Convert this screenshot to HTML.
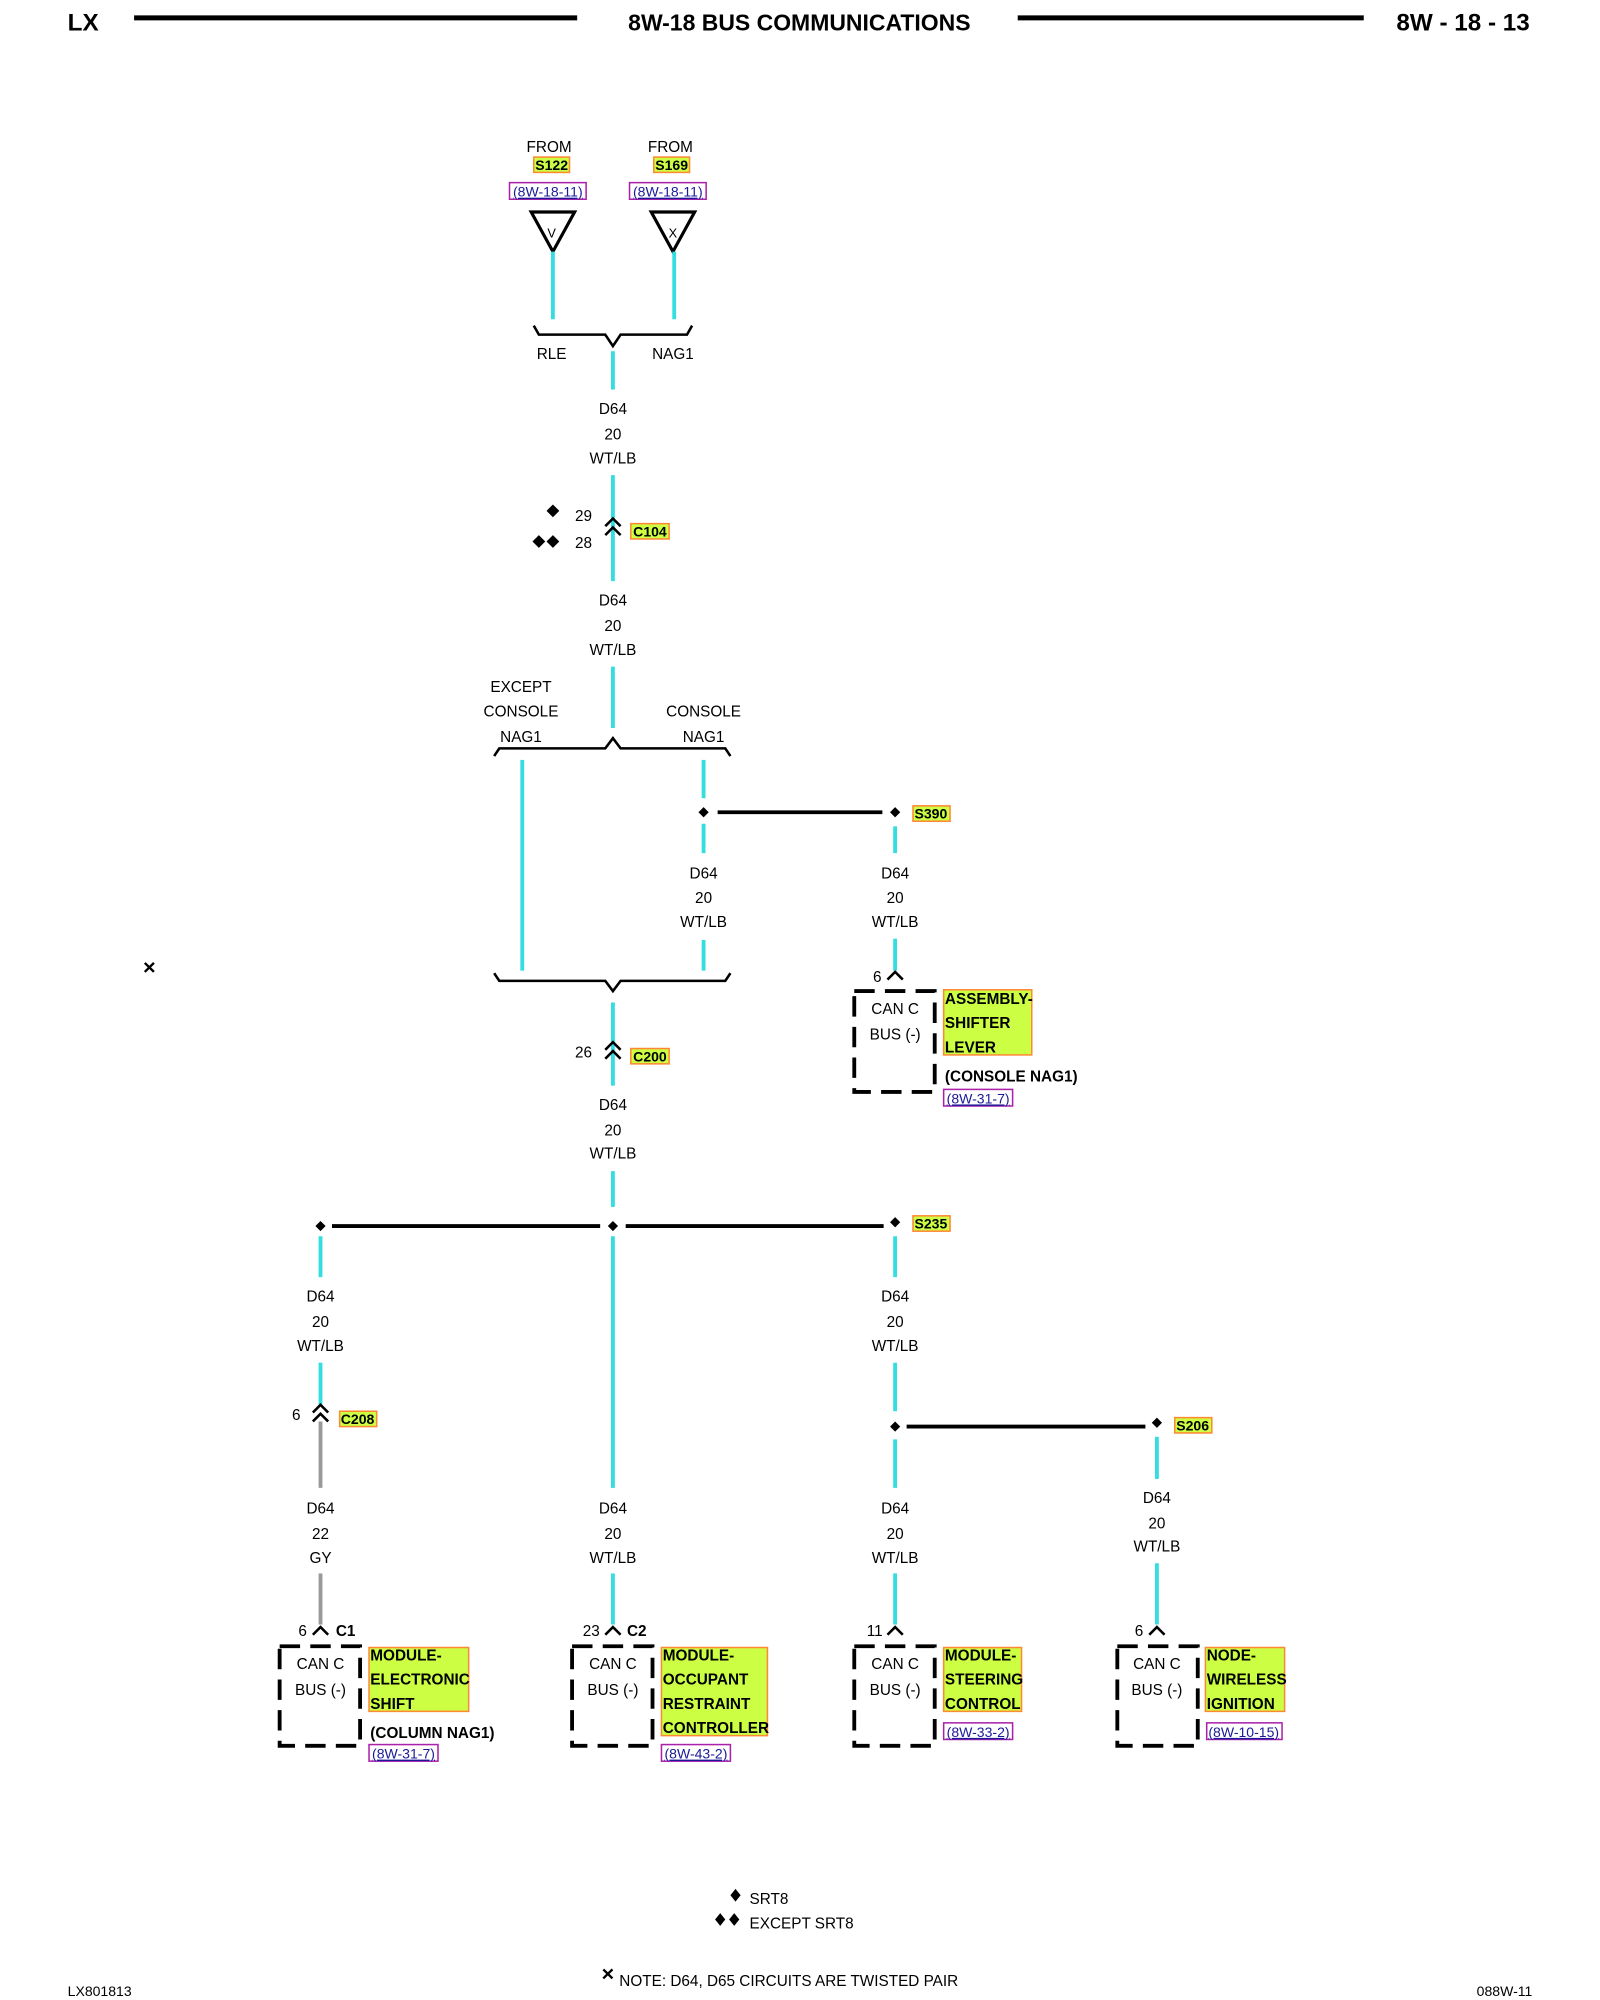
<!DOCTYPE html>
<html><head><meta charset="utf-8"><style>
html,body{margin:0;padding:0;background:#fff;}
svg{display:block}
text{font-family:"Liberation Sans",sans-serif;font-size:12px;fill:#000}
.c{text-anchor:middle}
.b{font-weight:bold}
.w{stroke:#33dde0;stroke-width:3;fill:none}
.g{stroke:#999;stroke-width:3;fill:none}
.k{stroke:#000;stroke-width:2;fill:none}
.lbl{fill:#ccff44;stroke:#ff8833;stroke-width:1.2}
.lnk{fill:none;stroke:#aa22aa;stroke-width:1.2}
.lt{fill:#1a1a99;text-decoration:underline}
.box{fill:none;stroke:#000;stroke-width:3;stroke-dasharray:16,8}
</style></head><body>
<svg width="1600" height="2000" viewBox="0 0 1253 1566" preserveAspectRatio="none" xmlns="http://www.w3.org/2000/svg">
<!-- header -->
<text x="53" y="24" class="b" style="font-size:19px">LX</text>
<line x1="105" y1="14" x2="452" y2="14" stroke="#000" stroke-width="4"/>
<text x="626" y="24" class="b c" style="font-size:18px">8W-18 BUS COMMUNICATIONS</text>
<line x1="797" y1="14" x2="1068" y2="14" stroke="#000" stroke-width="4"/>
<text x="1198" y="24" class="b" text-anchor="end" style="font-size:19px">8W - 18 - 13</text>

<!-- top sources -->
<text x="430" y="119" class="c">FROM</text>
<rect x="418" y="123" width="28" height="12" class="lbl"/><text x="432" y="133" class="c b" style="font-size:11px">S122</text>
<rect x="399" y="143" width="60" height="13" class="lnk"/><text x="429" y="154" class="c lt" style="font-size:11px">(8W-18-11)</text>
<polygon points="416,166 450,166 433,197" fill="#fff" stroke="#000" stroke-width="2.5"/>
<text x="432" y="186" class="c" style="font-size:10px">V</text>
<text x="525" y="119" class="c">FROM</text>
<rect x="512" y="123" width="28" height="12" class="lbl"/><text x="526" y="133" class="c b" style="font-size:11px">S169</text>
<rect x="493" y="143" width="60" height="13" class="lnk"/><text x="523" y="154" class="c lt" style="font-size:11px">(8W-18-11)</text>
<polygon points="510,166 544,166 527,197" fill="#fff" stroke="#000" stroke-width="2.5"/>
<text x="527" y="186" class="c" style="font-size:10px">X</text>
<line x1="433" y1="197" x2="433" y2="250" class="w"/>
<line x1="528" y1="197" x2="528" y2="250" class="w"/>
<path d="M418,255 L422,262 L474,262 L480,271 L486,262 L538,262 L542,255" class="k"/>
<text x="432" y="281" class="c">RLE</text>
<text x="527" y="281" class="c">NAG1</text>
<line x1="480" y1="275" x2="480" y2="305" class="w"/>
<text x="480" y="324" class="c">D64</text><text x="480" y="344" class="c">20</text><text x="480" y="363" class="c">WT/LB</text>
<line x1="480" y1="372" x2="480" y2="455" class="w"/>
<path d="M474,412 L480,406 L486,412 M474,419 L480,413 L486,419" class="k" stroke-width="2.2"/>
<polygon points="433,395 438,400 433,405 428,400" fill="#000"/>
<polygon points="422,419 427,424 422,429 417,424" fill="#000"/>
<polygon points="433,419 438,424 433,429 428,424" fill="#000"/>
<text x="457" y="408" class="c">29</text><text x="457" y="429" class="c">28</text>
<rect x="494" y="410" width="30" height="12" class="lbl"/><text x="509" y="420" class="c b" style="font-size:11px">C104</text>
<text x="480" y="474" class="c">D64</text><text x="480" y="494" class="c">20</text><text x="480" y="513" class="c">WT/LB</text>
<line x1="480" y1="522" x2="480" y2="570" class="w"/>
<text x="408" y="542" class="c">EXCEPT</text><text x="408" y="561" class="c">CONSOLE</text><text x="408" y="581" class="c">NAG1</text>
<text x="551" y="561" class="c">CONSOLE</text><text x="551" y="581" class="c">NAG1</text>
<path d="M387,592 L391,586 L474,586 L480,578 L486,586 L568,586 L572,592" class="k"/>
<line x1="409" y1="595" x2="409" y2="760" class="w"/>
<line x1="551" y1="595" x2="551" y2="625" class="w"/>
<line x1="551" y1="645" x2="551" y2="668" class="w"/>
<line x1="551" y1="736" x2="551" y2="760" class="w"/>
<polygon points="551,632 555,636 551,640 547,636" fill="#000"/>
<line x1="562" y1="636" x2="691" y2="636" stroke="#000" stroke-width="3"/>
<polygon points="701,632 705,636 701,640 697,636" fill="#000"/>
<rect x="715" y="631" width="29" height="12" class="lbl"/><text x="729" y="641" class="c b" style="font-size:11px">S390</text>
<text x="551" y="688" class="c">D64</text><text x="551" y="707" class="c">20</text><text x="551" y="726" class="c">WT/LB</text>
<line x1="701" y1="647" x2="701" y2="668" class="w"/>
<text x="701" y="688" class="c">D64</text><text x="701" y="707" class="c">20</text><text x="701" y="726" class="c">WT/LB</text>
<line x1="701" y1="735" x2="701" y2="760" class="w"/>
<path d="M387,762 L391,768 L474,768 L480,776 L486,768 L568,768 L572,762" class="k"/>
<!-- assembly shifter -->
<text x="687" y="769" class="c">6</text>
<path d="M695,767 L701,761 L707,767" class="k"/>
<rect x="669" y="776" width="63" height="79" class="box"/>
<text x="701" y="794" class="c">CAN C</text><text x="701" y="814" class="c">BUS (-)</text>
<rect x="739" y="775" width="69" height="51" class="lbl"/>
<text x="740" y="786" class="b">ASSEMBLY-</text><text x="740" y="805" class="b">SHIFTER</text><text x="740" y="824" class="b">LEVER</text>
<text x="740" y="847" class="b">(CONSOLE NAG1)</text>
<rect x="739" y="853" width="54" height="13" class="lnk"/><text x="766" y="864" class="c lt" style="font-size:11px">(8W-31-7)</text>
<!-- twisted pair marker -->
<text x="117" y="763" class="c b" style="font-size:17px">×</text>
<!-- C200 -->
<line x1="480" y1="785" x2="480" y2="850" class="w"/>
<path d="M474,822 L480,816 L486,822 M474,829 L480,823 L486,829" class="k" stroke-width="2.2"/>
<text x="457" y="828" class="c">26</text>
<rect x="494" y="821" width="30" height="12" class="lbl"/><text x="509" y="831" class="c b" style="font-size:11px">C200</text>
<text x="480" y="869" class="c">D64</text><text x="480" y="889" class="c">20</text><text x="480" y="907" class="c">WT/LB</text>
<line x1="480" y1="917" x2="480" y2="945" class="w"/>
<polygon points="480,956 484,960 480,964 476,960" fill="#000"/>
<line x1="260" y1="960" x2="470" y2="960" stroke="#000" stroke-width="3"/>
<line x1="490" y1="960" x2="692" y2="960" stroke="#000" stroke-width="3"/>
<polygon points="251,956 255,960 251,964 247,960" fill="#000"/>
<polygon points="701,953 705,957 701,961 697,957" fill="#000"/>
<rect x="715" y="952" width="29" height="12" class="lbl"/><text x="729" y="962" class="c b" style="font-size:11px">S235</text>
<!-- left column -->
<line x1="251" y1="968" x2="251" y2="1000" class="w"/>
<text x="251" y="1019" class="c">D64</text><text x="251" y="1039" class="c">20</text><text x="251" y="1058" class="c">WT/LB</text>
<line x1="251" y1="1067" x2="251" y2="1100" class="w"/>
<path d="M245,1106 L251,1100 L257,1106 M245,1113 L251,1107 L257,1113" class="k" stroke-width="2.2"/>
<text x="232" y="1112" class="c">6</text>
<rect x="266" y="1105" width="29" height="12" class="lbl"/><text x="280" y="1115" class="c b" style="font-size:11px">C208</text>
<line x1="251" y1="1113" x2="251" y2="1165" class="g"/>
<text x="251" y="1185" class="c">D64</text><text x="251" y="1205" class="c">22</text><text x="251" y="1224" class="c">GY</text>
<line x1="251" y1="1232" x2="251" y2="1272" class="g"/>
<text x="237" y="1281" class="c">6</text>
<path d="M245,1280 L251,1274 L257,1280" class="k"/>
<text x="263" y="1281" class="b">C1</text>
<rect x="219" y="1289" width="63" height="78" class="box"/>
<text x="251" y="1307" class="c">CAN C</text><text x="251" y="1327" class="c">BUS (-)</text>
<rect x="289" y="1290" width="78" height="50" class="lbl"/>
<text x="290" y="1300" class="b">MODULE-</text><text x="290" y="1319" class="b">ELECTRONIC</text><text x="290" y="1338" class="b">SHIFT</text>
<text x="290" y="1361" class="b">(COLUMN NAG1)</text>
<rect x="289" y="1366" width="54" height="13" class="lnk"/><text x="316" y="1377" class="c lt" style="font-size:11px">(8W-31-7)</text>
<!-- center column -->
<line x1="480" y1="968" x2="480" y2="1165" class="w"/>
<text x="480" y="1185" class="c">D64</text><text x="480" y="1205" class="c">20</text><text x="480" y="1224" class="c">WT/LB</text>
<line x1="480" y1="1232" x2="480" y2="1272" class="w"/>
<text x="463" y="1281" class="c">23</text>
<path d="M474,1280 L480,1274 L486,1280" class="k"/>
<text x="491" y="1281" class="b">C2</text>
<rect x="448" y="1289" width="63" height="78" class="box"/>
<text x="480" y="1307" class="c">CAN C</text><text x="480" y="1327" class="c">BUS (-)</text>
<rect x="518" y="1290" width="83" height="69" class="lbl"/>
<text x="519" y="1300" class="b">MODULE-</text><text x="519" y="1319" class="b">OCCUPANT</text><text x="519" y="1338" class="b">RESTRAINT</text><text x="519" y="1357" class="b">CONTROLLER</text>
<rect x="518" y="1366" width="54" height="13" class="lnk"/><text x="545" y="1377" class="c lt" style="font-size:11px">(8W-43-2)</text>
<!-- right column -->
<line x1="701" y1="968" x2="701" y2="1000" class="w"/>
<text x="701" y="1019" class="c">D64</text><text x="701" y="1039" class="c">20</text><text x="701" y="1058" class="c">WT/LB</text>
<line x1="701" y1="1067" x2="701" y2="1105" class="w"/>
<polygon points="701,1113 705,1117 701,1121 697,1117" fill="#000"/>
<line x1="710" y1="1117" x2="897" y2="1117" stroke="#000" stroke-width="3"/>
<polygon points="906,1110 910,1114 906,1118 902,1114" fill="#000"/>
<rect x="920" y="1110" width="29" height="12" class="lbl"/><text x="934" y="1120" class="c b" style="font-size:11px">S206</text>
<line x1="701" y1="1127" x2="701" y2="1165" class="w"/>
<text x="701" y="1185" class="c">D64</text><text x="701" y="1205" class="c">20</text><text x="701" y="1224" class="c">WT/LB</text>
<line x1="701" y1="1232" x2="701" y2="1272" class="w"/>
<text x="685" y="1281" class="c">11</text>
<path d="M695,1280 L701,1274 L707,1280" class="k"/>
<rect x="669" y="1289" width="63" height="78" class="box"/>
<text x="701" y="1307" class="c">CAN C</text><text x="701" y="1327" class="c">BUS (-)</text>
<rect x="739" y="1290" width="61" height="50" class="lbl"/>
<text x="740" y="1300" class="b">MODULE-</text><text x="740" y="1319" class="b">STEERING</text><text x="740" y="1338" class="b">CONTROL</text>
<rect x="739" y="1349" width="54" height="13" class="lnk"/><text x="766" y="1360" class="c lt" style="font-size:11px">(8W-33-2)</text>
<!-- far right -->
<line x1="906" y1="1125" x2="906" y2="1158" class="w"/>
<text x="906" y="1177" class="c">D64</text><text x="906" y="1197" class="c">20</text><text x="906" y="1215" class="c">WT/LB</text>
<line x1="906" y1="1224" x2="906" y2="1272" class="w"/>
<text x="892" y="1281" class="c">6</text>
<path d="M900,1280 L906,1274 L912,1280" class="k"/>
<rect x="875" y="1289" width="63" height="78" class="box"/>
<text x="906" y="1307" class="c">CAN C</text><text x="906" y="1327" class="c">BUS (-)</text>
<rect x="944" y="1290" width="62" height="50" class="lbl"/>
<text x="945" y="1300" class="b">NODE-</text><text x="945" y="1319" class="b">WIRELESS</text><text x="945" y="1338" class="b">IGNITION</text>
<rect x="945" y="1349" width="59" height="13" class="lnk"/><text x="974" y="1360" class="c lt" style="font-size:11px">(8W-10-15)</text>
<!-- legend -->
<polygon points="576,1479 580,1484 576,1489 572,1484" fill="#000"/>
<text x="587" y="1491">SRT8</text>
<polygon points="564,1498 568,1503 564,1508 560,1503" fill="#000"/>
<polygon points="575,1498 579,1503 575,1508 571,1503" fill="#000"/>
<text x="587" y="1510">EXCEPT SRT8</text>
<text x="476" y="1551" class="c b" style="font-size:17px">×</text>
<text x="485" y="1555">NOTE:  D64, D65    CIRCUITS ARE TWISTED PAIR</text>
<text x="53" y="1563" style="font-size:11px">LX801813</text>
<text x="1200" y="1563" text-anchor="end" style="font-size:11px">088W-11</text>
</svg>
</body></html>
